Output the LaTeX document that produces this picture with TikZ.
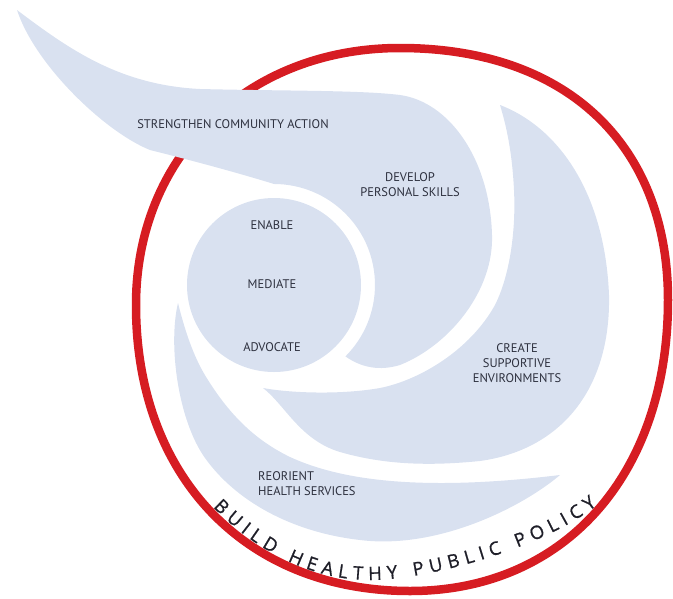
\documentclass[tikz,border=0pt]{standalone}
\usepackage{fontspec}
\usepackage{tikz}
\usepackage{color}
\usetikzlibrary{decorations.text}
\newfontfamily\ptsans{PT Sans}
\newfontfamily\opensans[FakeBold=0.8]{Open Sans}
\definecolor{wing}{RGB}{217,225,240}
\definecolor{ring}{RGB}{214,28,34}
\definecolor{ink}{RGB}{45,48,62}
\definecolor{ringink}{RGB}{30,30,40}

\begin{document}
\begin{tikzpicture}[x=1pt,y=1pt]
\tikzstyle{every node}+=[inner sep=0pt]
\tikzstyle{area}=[text=ink, font=\ptsans\fontsize{12.5}{15}\selectfont, align=center]
\useasboundingbox (0,0) rectangle (673,-598);
\draw [ring, line width=8.5] (400,-48) .. controls (566,-48) and (668,-144) .. (668,-300)
  .. controls (668,-474) and (565,-591) .. (410,-591)
  .. controls (246,-591) and (136,-477) .. (136,-305)
  .. controls (136,-156) and (247,-48) .. (400,-48) -- cycle;
\fill [wing] (17,-10) .. controls (70,-50) and (120,-85) .. (200,-89)
  .. controls (280,-91) and (360,-90) .. (400,-95)
  .. controls (450,-102) and (490,-160) .. (492,-235)
  .. controls (494,-290) and (450,-345) .. (400,-365)
  .. controls (380,-371) and (362,-368) .. (345.4,-356.4)
  arc [start angle=-45, end angle=90, radius=101]
  .. controls (235,-172) and (190,-160) .. (150,-150)
  .. controls (105,-132) and (35,-65) .. (17,-10) -- cycle;
\fill [wing] (500,-105) .. controls (560,-128) and (605,-195) .. (609,-295)
  .. controls (611,-390) and (560,-450) .. (480,-461)
  .. controls (430,-466) and (385,-465) .. (340,-452)
  .. controls (300,-440) and (285,-405) .. (263,-388)
  .. controls (290,-393) and (340,-395) .. (380,-388)
  .. controls (420,-380) and (470,-350) .. (495,-305)
  .. controls (510,-275) and (516,-230) .. (514,-190)
  .. controls (512,-150) and (506,-125) .. (500,-105) -- cycle;
\fill [wing] (178,-303) .. controls (186,-335) and (195,-360) .. (208,-380)
  .. controls (230,-415) and (255,-440) .. (290,-457)
  .. controls (340,-480) and (420,-492) .. (560,-475)
  .. controls (525,-505) and (440,-550) .. (360,-540)
  .. controls (290,-532) and (235,-500) .. (205,-458)
  .. controls (178,-420) and (168,-345) .. (178,-303) -- cycle;
\fill [wing] (274,-285) circle (87);
\draw (233,-124) node (strengthen) [area] {STRENGTHEN COMMUNITY ACTION};
\draw (410,-185) node (develop) [area] {DEVELOP\\PERSONAL SKILLS};
\draw (272,-225) node (enable) [area] {ENABLE};
\draw (272,-284) node (mediate) [area] {MEDIATE};
\draw (272,-347) node (advocate) [area] {ADVOCATE};
\draw (517,-363) node (create) [area] {CREATE\\SUPPORTIVE\\ENVIRONMENTS};
\draw (258,-484) node (reorient) [area, anchor=west, align=left] {REORIENT\\HEALTH SERVICES};
\path [decorate, decoration={text along path, text align={fit to path}, text color=ringink,
  text={|\opensans\fontsize{18.5}{18.5}\selectfont|BUILD HEALTHY PUBLIC POLICY}}]
  (213,-507) .. controls (255,-550) and (310,-580) .. (370,-580)
  .. controls (430,-580) and (545,-547) .. (597,-505);
\end{tikzpicture}
\end{document}
